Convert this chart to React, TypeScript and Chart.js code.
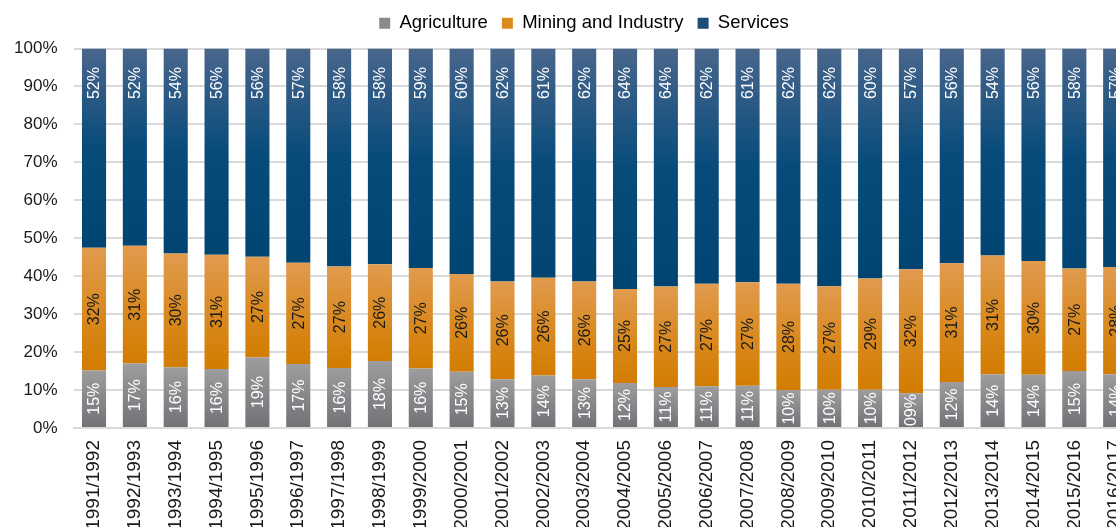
import React, { useEffect, useRef } from 'react';
import { Chart, registerables } from 'chart.js';

Chart.register(...registerables);

const categories = [
  '1991/1992', '1992/1993', '1993/1994', '1994/1995', '1995/1996', '1996/1997',
  '1997/1998', '1998/1999', '1999/2000', '2000/2001', '2001/2002', '2002/2003',
  '2003/2004', '2004/2005', '2005/2006', '2006/2007', '2007/2008', '2008/2009',
  '2009/2010', '2010/2011', '2011/2012', '2012/2013', '2013/2014', '2014/2015',
  '2015/2016', '2016/2017',
];
const agriculture = [15, 17, 16, 16, 19, 17, 16, 18, 16, 15, 13, 14, 13, 12, 11, 11, 11, 10, 10, 10, 9, 12, 14, 14, 15, 14];
const miningIndustry = [32, 31, 30, 31, 27, 27, 27, 26, 27, 26, 26, 26, 26, 25, 27, 27, 27, 28, 27, 29, 32, 31, 31, 30, 27, 28];
const services = [52, 52, 54, 56, 56, 57, 58, 58, 59, 60, 62, 61, 62, 64, 64, 62, 61, 62, 62, 60, 57, 56, 54, 56, 58, 57];
const seriesNames = ['Agriculture', 'Mining and Industry', 'Services'];

const W = 1168;
const H = 545;
const FONT = '"Liberation Sans", Arial, Helvetica, sans-serif';

const raw = [agriculture, miningIndustry, services];
const totals = categories.map((_, i) => raw.reduce((s, arr) => s + arr[i], 0));
const pct = raw.map((arr) => arr.map((v, i) => (v / totals[i]) * 100));

const legendColors = ['#8a8a8d', '#dc8a1c', '#1d4c79'];
const gradientStops: [number, string][][] = [
  [[0, '#9d9d9f'], [1, '#727176']],
  [[0, '#e19b4f'], [0.5, '#d98a22'], [1, '#d27c00']],
  [[0, '#49668c'], [0.5, '#074b7b'], [1, '#004572']],
];
const labelColors = ['#ffffff', '#1a1a1a', '#ffffff'];

function makeBg(s: number) {
  return (ctx: any) => {
    if (ctx.type !== 'data') return legendColors[s];
    const chart = ctx.chart;
    const yScale = chart.scales && chart.scales.y;
    if (!yScale || !chart.chartArea) return legendColors[s];
    const i = ctx.dataIndex;
    let low = 0;
    for (let k = 0; k < s; k++) low += pct[k][i];
    const high = low + pct[s][i];
    const top = yScale.getPixelForValue(high);
    const bot = yScale.getPixelForValue(low);
    if (!isFinite(top) || !isFinite(bot) || top === bot) return legendColors[s];
    const g = chart.ctx.createLinearGradient(0, top, 0, bot);
    gradientStops[s].forEach(([o, c]) => g.addColorStop(o, c));
    return g;
  };
}

const barLabelPlugin = {
  id: 'barLabels',
  afterDatasetsDraw(chart: any) {
    const c = chart.ctx;
    c.save();
    c.font = `16px ${FONT}`;
    chart.data.datasets.forEach((ds: any, d: number) => {
      const meta = chart.getDatasetMeta(d);
      meta.data.forEach((bar: any, i: number) => {
        const { x, y, base } = bar.getProps(['x', 'y', 'base'], true);
        const text = String(raw[d][i]).padStart(2, '0') + '%';
        c.save();
        c.fillStyle = labelColors[d];
        c.textBaseline = 'middle';
        let ay: number;
        if (d === 2) {
          c.textAlign = 'right';
          ay = Math.min(y, base) + 18.5;
        } else {
          c.textAlign = 'center';
          ay = (y + base) / 2;
        }
        c.translate(x, ay);
        c.rotate(-Math.PI / 2);
        c.fillText(text, 0, 1);
        c.restore();
      });
    });
    c.restore();
  },
};

export default function App() {
  const ref = useRef<HTMLCanvasElement | null>(null);

  useEffect(() => {
    if (!ref.current) return;
    const chart = new Chart(ref.current, {
      type: 'bar',
      data: {
        labels: categories,
        datasets: seriesNames.map((name, s) => ({
          label: name,
          data: pct[s],
          backgroundColor: makeBg(s),
          borderWidth: 0,
          categoryPercentage: 1,
          barPercentage: 0.59,
        })),
      },
      options: {
        responsive: false,
        animation: false,
        devicePixelRatio: 1,
        layout: { padding: { left: 0, right: 0, top: 0, bottom: 0 } },
        plugins: {
          legend: {
            position: 'top',
            weight: 3000,
            labels: {
              boxWidth: 11,
              boxHeight: 11,
              padding: 14,
              color: '#1a1a1a',
              font: { size: 18.5, family: FONT },
              generateLabels: () =>
                seriesNames.map((name, s) => ({
                  text: name,
                  fillStyle: legendColors[s],
                  strokeStyle: legendColors[s],
                  lineWidth: 0,
                  hidden: false,
                  datasetIndex: s,
                })),
            },
          },
          subtitle: {
            display: true,
            text: '',
            padding: 0,
            font: { size: 1, lineHeight: '6px' },
          },
          tooltip: { enabled: false },
        },
        scales: {
          x: {
            stacked: true,
            grid: { display: false, drawTicks: false },
            border: { display: true, color: '#d9d9d9', width: 2 },
            ticks: {
              autoSkip: false,
              minRotation: 90,
              maxRotation: 90,
              padding: 12,
              color: '#1a1a1a',
              font: { size: 19, family: FONT },
            },
            afterFit: (s: any) => {
              s.height = 117;
            },
          },
          y: {
            stacked: true,
            min: 0,
            max: 100,
            ticks: {
              stepSize: 10,
              padding: 16,
              color: '#1a1a1a',
              font: { size: 17, family: FONT },
              callback: (v: any) => v + '%',
            },
            grid: { color: '#d9d9d9', lineWidth: 2, drawTicks: false },
            border: { display: false },
            afterFit: (s: any) => {
              s.width = 73.6;
            },
          },
          yRight: {
            position: 'right',
            min: 0,
            max: 100,
            grid: { display: false, drawTicks: false },
            border: { display: false },
            ticks: { display: false },
            afterFit: (s: any) => {
              s.width = 32.4;
            },
          },
        },
      } as any,
      plugins: [barLabelPlugin],
    });
    return () => chart.destroy();
  }, []);

  return (
    <div style={{ position: 'fixed', left: 0, top: 0, width: W, height: H, background: '#fff' }}>
      <canvas ref={ref} width={W} height={H} style={{ display: 'block', width: W, height: H }} />
    </div>
  );
}
